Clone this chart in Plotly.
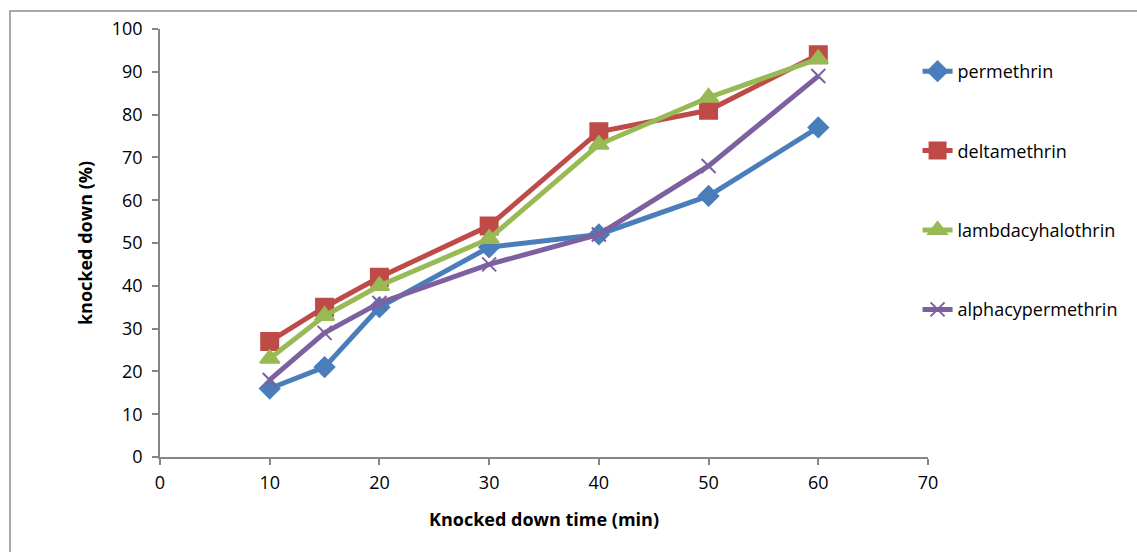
import plotly.graph_objects as go

time_min = [10, 15, 20, 30, 40, 50, 60]
permethrin = [16, 21, 35, 49, 52, 61, 77]
deltamethrin = [27, 35, 42, 54, 76, 81, 94]
lambdacyhalothrin = [23, 33, 40, 51, 73, 84, 93]
alphacypermethrin = [18, 29, 36, 45, 52, 68, 89]

series = [
    ("permethrin", permethrin, "#4A7EBB", "diamond", 15),
    ("deltamethrin", deltamethrin, "#BE4B48", "square", 17),
    ("lambdacyhalothrin", lambdacyhalothrin, "#98B954", "triangle-up", 17),
    ("alphacypermethrin", alphacypermethrin, "#7D60A0", "x-thin-open", 14),
]

FONT = "Open Sans"
fig = go.Figure()
for i, (name, vals, color, sym, size) in enumerate(series):
    fig.add_trace(go.Scatter(
        x=time_min, y=vals, name=name, mode="lines+markers",
        line=dict(color=color, width=5),
        marker=dict(symbol=sym, size=size, color=color,
                    line=dict(color=color, width=2)),
        legendgroup=f"g{i}",
    ))

W, H = 1137, 552
fig.update_layout(
    width=W, height=H,
    margin=dict(l=0, r=0, t=0, b=0),
    paper_bgcolor="white", plot_bgcolor="white",
    font=dict(family=FONT, size=18, color="#000000"),
    xaxis=dict(
        domain=[160 / W, 928 / W], range=[0, 70], dtick=10, tick0=0,
        showgrid=False, zeroline=False, showline=True, automargin=False,
        linecolor="#868686", linewidth=1.5,
        ticks="outside", ticklen=6, tickcolor="#868686", tickwidth=1.5,
        tickfont=dict(size=18), ticklabelstandoff=3,
        title=dict(text="<b>Knocked down time (min)</b>", font=dict(size=18), standoff=20),
    ),
    yaxis=dict(
        domain=[1 - 457 / H, 1 - 29 / H], range=[0, 100], dtick=10,
        showgrid=False, zeroline=False, showline=True, automargin=False,
        linecolor="#868686", linewidth=1.5,
        ticks="outside", ticklen=6, tickcolor="#868686", tickwidth=1.5,
        tickfont=dict(size=18), ticklabelstandoff=6,
        title=dict(text="<b>knocked down (%)</b>", font=dict(size=18), standoff=14),
    ),
    legend=dict(
        x=0.807, xanchor="left", y=1 - 53 / H, yanchor="top",
        tracegroupgap=53, font=dict(size=18), bgcolor="rgba(0,0,0,0)",
        itemwidth=30,
    ),
    shapes=[dict(
        type="rect", xref="paper", yref="paper",
        x0=10 / W, x1=1.01, y0=-0.02, y1=1 - 11 / H,
        line=dict(color="#8C8C8C", width=1.5), fillcolor="rgba(0,0,0,0)",
        layer="below",
    )],
)

fig.write_html("out.html")
